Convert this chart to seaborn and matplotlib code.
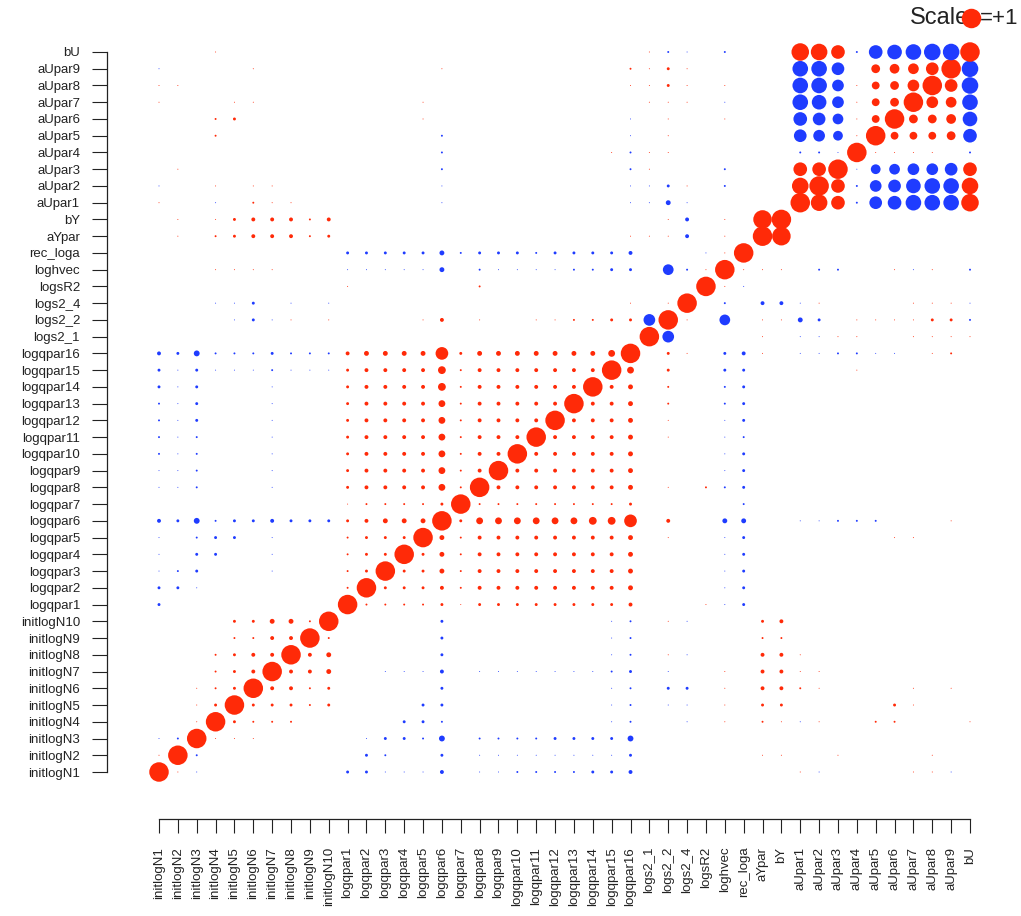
import matplotlib
matplotlib.use("Agg")
import numpy as np
import pandas as pd
import matplotlib.pyplot as plt
import seaborn as sns


# Variable names, bottom -> top (and left -> right)
names_N = ["initlogN%d" % k for k in range(1, 11)]
names_q = ["logqpar%d" % k for k in range(1, 17)]
names_misc = ["logs2_1", "logs2_2", "logs2_4", "logsR2", "loghvec", "rec_loga"]
names_Y = ["aYpar", "bY"]
names_U = ["aUpar%d" % k for k in range(1, 10)] + ["bU"]
names = names_N + names_q + names_misc + names_Y + names_U

# Correlations: lower triangle, one string per row.
# '.' = 0, a..t = +0.05..+1.00, A..T = -0.05..-1.00
rows_N = [
    "",
    "a",
    "AB",
    "..a",
    "..ac",
    "..abc",
    "...bcd",
    "...bcdd",
    "....bbdd",
    "....cceeb",
]
rows_q = [
    "C.........",
    "CCA.......b",
    "ABC...A...bc",
    "A.CC..A...bcc",
    "A.BCC.A...bccc",
    "DCFBCCDCCCcdeee",
    "..........abbbbc",
    "AAB...A...cddddgb",
    "AAB...A...cddddgbd",
    "BAB...A...cddddgbdd",
    "BAB...A...cddddgbddd",
    "BAC...A...cddddgbdddd",
    "BAC...A...cddddgbddddd",
    "CAC...A...cddddhbdddddd",
    "CACAAABAAAcddddhbddddddd",
    "DCFBBBCBBBdeeeemceeeeeeeg",
]
rows_misc = [
    ".........." ".........." "......",
    "....ACAa.a" "....ad.a.." "aabbccL",
    "...AAC.A.A" ".........." ".....a.a",
    ".........." "a......b.." ".........",
    "...aaaa..." "AAAAAE.BAA" "AABBCC.KBa",
    ".........." "CCCCCEBCCC" "BCCCCD...A" "a",
]
rows_Y = [
    ".a.bcdddbc" ".........." ".....aaaD." "a.",
    ".a.acdddbd" ".........." ".......aD." "a.s",
]
rows_U = [
    "a..A.baa.." ".....A...." ".....AAEA." "....",
    "A..a.aa..." ".....A...." ".....AACa." "B...q",
    ".a........" ".....B...." ".....Ba..." "B...nn",
    ".........." ".....B...." "....aBaa.." "....BBA",
    "...b......" ".....B...." ".....A.a.." "....MLJa",
    "...bc....." "....a....." ".....A.a.." "a...NMKah",
    "a...aa...." "....a....." "......aaa." "A...POLahi",
    "aa........" ".........." ".....aaca." "a...PPLahil",
    "A....a...." ".....a...." ".....baca." "....PPM.ijkm",
    "...a......" ".........." "......aBA." "B...rqnBNOPQQ",
]

RED = "#ff2a08"
BLUE = "#1f3cff"


def code_value(ch):
    if ch == ".":
        return 0.0
    if ch.islower():
        return 0.05 * (ord(ch) - 96)
    return -0.05 * (ord(ch) - 64)


n = len(names)
corr = np.eye(n)
for i, row in enumerate(rows_N + rows_q + rows_misc + rows_Y + rows_U):
    assert len(row) == i, (i, len(row))
    for j, ch in enumerate(row):
        corr[i, j] = corr[j, i] = code_value(ch)

ii, jj = np.meshgrid(np.arange(n), np.arange(n), indexing="ij")
df = pd.DataFrame({"x": jj.ravel(), "y": ii.ravel(), "r": corr.ravel()})
df = df[df["r"] != 0].copy()
df["sign"] = np.where(df["r"] > 0, "pos", "neg")
df["r2"] = df["r"] ** 2   # area ~ r^2  -> diameter ~ |r|

sns.set_style("white")
plt.rcParams["font.family"] = ["Liberation Sans", "DejaVu Sans"]

W, H = 1021, 916
fig = plt.figure(figsize=(W / 100, H / 100), dpi=100)
ax = fig.add_axes([159 / W, (H - 772) / H, 811 / W, 720 / H])

S_MAX = (19.5 * 0.72) ** 2
sns.scatterplot(
    data=df, x="x", y="y",
    hue="sign", palette={"pos": RED, "neg": BLUE},
    size="r2", sizes=(0, S_MAX), size_norm=(0, 1),
    linewidth=0, legend=False, clip_on=False, ax=ax
)

ax.set_xlim(0, n - 1)
ax.set_ylim(0, n - 1)
ax.set_xlabel("")
ax.set_ylabel("")

txt_col = "#222222"
ax.set_xticks(range(n))
ax.set_xticklabels(names)
ax.set_yticks(range(n))
ax.set_yticklabels(names)

ax.tick_params(axis="x", length=10, width=0.8, pad=10, labelsize=9.5,
               color=txt_col, labelcolor=txt_col, bottom=True,
               labelrotation=90)
ax.tick_params(axis="y", length=10.8, width=0.8, pad=8.6, labelsize=9.5,
               color=txt_col, labelcolor=txt_col, left=True)
for lab in ax.get_xticklabels():
    lab.set_rotation(90)
    lab.set_ha("center")
    lab.set_va("top")

for s in ["top", "right"]:
    ax.spines[s].set_visible(False)
ax.spines["left"].set_position(("outward", 52 * 0.72))
ax.spines["bottom"].set_position(("outward", 47 * 0.72))
for s in ["left", "bottom"]:
    ax.spines[s].set_linewidth(0.9)
    ax.spines[s].set_color(txt_col)

# Scale legend
ly = 1 + 34 / 720
ax.text(1 + 6 / 811, ly, "Scale.", transform=ax.transAxes, ha="right",
        va="center", fontsize=17, color=txt_col)
ax.plot([1 + 1 / 811], [ly], "o", color=RED, ms=19.5 * 0.72, mew=0,
        transform=ax.transAxes, clip_on=False, zorder=5)
ax.text(1 + 10 / 811, ly, "=+1", transform=ax.transAxes, ha="left",
        va="center", fontsize=16, color=txt_col)

fig.savefig("out.png", dpi=100, facecolor="white")
